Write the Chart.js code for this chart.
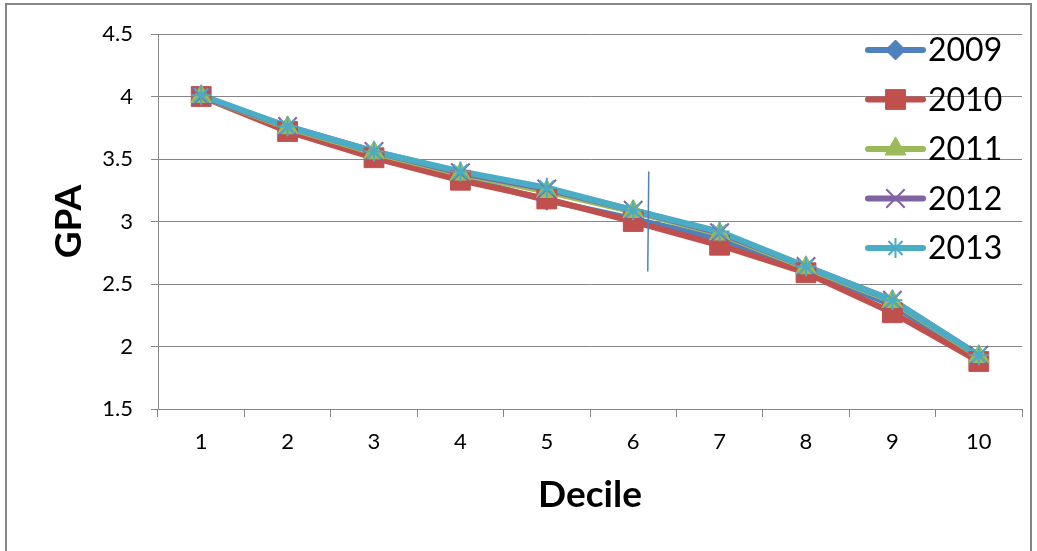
<!DOCTYPE html>
<html>
<head>
<meta charset="utf-8">
<script src="https://cdn.jsdelivr.net/npm/chart.js@4/dist/chart.umd.min.js"></script>
<style>
  html, body { margin: 0; padding: 0; background: #fff; }
  #wrap { width: 1037px; height: 551px; }
</style>
</head>
<body>
<div id="wrap"><canvas id="gpaChart" width="1037" height="551"></canvas></div>
<script>
var deciles = ['1', '2', '3', '4', '5', '6', '7', '8', '9', '10'];
var years = ['2009', '2010', '2011', '2012', '2013'];
var gpa2009 = [4.00, 3.75, 3.53, 3.35, 3.17, 3.02, 2.86, 2.62, 2.33, 1.91];
var gpa2010 = [4.00, 3.72, 3.51, 3.33, 3.18, 3.00, 2.81, 2.59, 2.27, 1.88];
var gpa2011 = [4.00, 3.75, 3.55, 3.38, 3.24, 3.08, 2.90, 2.63, 2.36, 1.92];
var gpa2012 = [4.00, 3.76, 3.56, 3.39, 3.26, 3.09, 2.91, 2.64, 2.37, 1.93];
var gpa2013 = [4.01, 3.76, 3.56, 3.40, 3.27, 3.09, 2.92, 2.64, 2.37, 1.93];
var yTicks = [1.5, 2, 2.5, 3, 3.5, 4, 4.5];
// stray vertical stroke in the original, between decile 6 and 7
var strayMark = { index: 5.18, from: 3.4, to: 2.6 };

var grey = '#868686';
var fontName = 'Lato, "Open Sans", sans-serif';

var seriesData = [gpa2009, gpa2010, gpa2011, gpa2012, gpa2013];
var colors = ['#4F81BD', '#C0504D', '#9BBB59', '#8064A2', '#4BACC6'];
var markers = ['rectRot', 'rect', 'triangle', 'crossRot', 'star'];
var markerSizes = [10, 14, 12, 13, 10];

// Excel draws all lines first, then all markers on top: two passes
var lineSets = years.map(function(y, i) {
    return {
        label: y,
        data: seriesData[i],
        borderColor: colors[i],
        borderWidth: 6,
        pointRadius: 0,
        tension: 0,
        order: 20 - i
    };
});
var markerSets = years.map(function(y, i) {
    var thin = markers[i] === 'star' || markers[i] === 'crossRot';
    return {
        label: y + ' markers',
        data: seriesData[i],
        showLine: false,
        pointStyle: markers[i],
        pointRadius: markerSizes[i],
        pointHoverRadius: markerSizes[i],
        pointBackgroundColor: colors[i],
        pointBorderColor: colors[i],
        pointBorderWidth: thin ? 2 : 1,
        order: 10 - i
    };
});

var framePlugin = {
    id: 'frame',
    beforeDraw: function(chart) {
        var ctx = chart.ctx;
        ctx.save();
        ctx.fillStyle = '#fff';
        ctx.fillRect(0, 0, chart.width, chart.height);
        ctx.strokeStyle = grey;
        ctx.lineWidth = 2;
        ctx.strokeRect(6, 4, 1025, 560);
        ctx.restore();
    },
    afterDatasetsDraw: function(chart) {
        var ctx = chart.ctx;
        var x = chart.scales.x.getPixelForValue(strayMark.index);
        ctx.save();
        ctx.strokeStyle = '#4F81BD';
        ctx.lineWidth = 1.5;
        ctx.beginPath();
        ctx.moveTo(x, chart.scales.y.getPixelForValue(strayMark.from));
        ctx.lineTo(x - 1, chart.scales.y.getPixelForValue(strayMark.to));
        ctx.stroke();
        ctx.restore();
    },
    afterDraw: function(chart) {
        // legend sits over the plot, top right, like the original
        var ctx = chart.ctx;
        var x0 = 868, x1 = 923, y = 50, step = 49.5;
        ctx.save();
        years.forEach(function(label, i) {
            var yy = y + i * step;
            var ms = markerSets[i];
            ctx.strokeStyle = colors[i];
            ctx.lineWidth = 6;
            ctx.lineCap = 'round';
            ctx.beginPath();
            ctx.moveTo(x0, yy);
            ctx.lineTo(x1, yy);
            ctx.stroke();
            ctx.lineCap = 'butt';
            ctx.fillStyle = colors[i];
            ctx.strokeStyle = colors[i];
            ctx.lineWidth = ms.pointBorderWidth;
            Chart.helpers.drawPoint(ctx, {
                pointStyle: ms.pointStyle,
                radius: ms.pointRadius,
                rotation: 0,
                borderWidth: ms.pointBorderWidth
            }, (x0 + x1) / 2, yy);
            ctx.fillStyle = '#000';
            ctx.font = '32px ' + fontName;
            ctx.textBaseline = 'middle';
            ctx.textAlign = 'left';
            ctx.fillText(label, x1 + 5, yy + 1);
        });
        ctx.restore();
    }
};

new Chart(document.getElementById('gpaChart'), {
    type: 'line',
    data: {
        labels: deciles,
        datasets: lineSets.concat(markerSets)
    },
    plugins: [framePlugin],
    options: {
        responsive: false,
        animation: false,
        layout: { padding: { top: 34, right: 13, left: 0, bottom: 0 } },
        plugins: {
            legend: { display: false },
            tooltip: { enabled: false }
        },
        scales: {
            x: {
                offset: true,
                grid: { drawOnChartArea: false, drawTicks: true, tickLength: 8, offset: true, color: grey },
                border: { color: grey, width: 1 },
                ticks: { color: '#000', font: { family: fontName, size: 22 }, padding: 12, maxRotation: 0 },
                title: {
                    display: true, text: 'Decile', color: '#000',
                    font: { family: fontName, size: 37, weight: 'bold' },
                    padding: { top: 0, bottom: 34 }
                },
                afterFit: function(s) { s.height = 142; }
            },
            y: {
                min: 1.5,
                max: 4.5,
                afterBuildTicks: function(s) { s.ticks = yTicks.map(function(v) { return { value: v }; }); },
                grid: { color: grey, tickLength: 7, drawTicks: true },
                border: { color: grey, width: 1 },
                ticks: {
                    color: '#000', font: { family: fontName, size: 22 }, padding: 18,
                    callback: function(v) { return String(v); }
                },
                title: {
                    display: true, text: 'GPA', color: '#000',
                    font: { family: fontName, size: 37, weight: 'bold' },
                    padding: { top: 47, bottom: 0 }
                },
                afterFit: function(s) { s.width = 158; }
            }
        }
    }
});
</script>
</body>
</html>
